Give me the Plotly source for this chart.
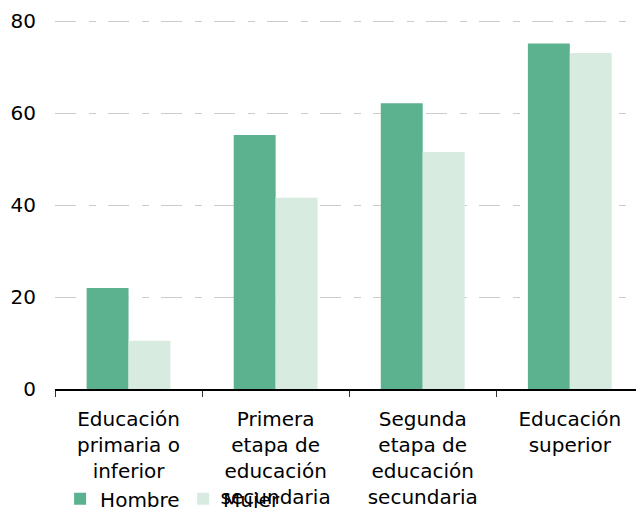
import plotly.graph_objects as go

# educational attainment categories (tick labels split over lines)
categories = [
    "Educación<br>primaria o<br>inferior",
    "Primera<br>etapa de<br>educación<br>secundaria",
    "Segunda<br>etapa de<br>educación<br>secundaria",
    "Educación<br>superior",
]
hombre = [22.0, 55.3, 62.2, 75.2]
mujer = [10.5, 41.6, 51.6, 73.1]

font_family = "DejaVu Sans, Arial, sans-serif"

fig = go.Figure()
fig.add_trace(go.Bar(x=categories, y=hombre, name="Hombre", marker=dict(color="#5cb18f", line=dict(width=0))))
fig.add_trace(go.Bar(x=categories, y=mujer, name="Mujer", marker=dict(color="#d7ebe1", line=dict(width=0))))

fig.update_layout(
    width=636,
    height=508,
    barmode="group",
    bargap=0.43,
    bargroupgap=0,
    plot_bgcolor="white",
    paper_bgcolor="white",
    font=dict(family=font_family, size=20, color="#000000"),
    margin=dict(l=55, r=0, t=20, b=119, pad=0),
    legend=dict(
        orientation="h",
        xref="container",
        yref="container",
        x=0.0945,
        xanchor="left",
        y=0.018,
        yanchor="middle",
        font=dict(size=20),
        entrywidth=78,
        entrywidthmode="pixels",
        bgcolor="rgba(0,0,0,0)",
    ),
    xaxis=dict(
        range=[-0.5, 3.45],
        automargin=False,
        showline=True,
        linecolor="#000000",
        linewidth=1.5,
        ticks="outside",
        tickson="boundaries",
        ticklen=6,
        tickcolor="#333333",
        showgrid=False,
        tickangle=0,
        ticklabelstandoff=11,
    ),
    yaxis=dict(
        range=[0, 80.3],
        automargin=False,
        dtick=20,
        showline=False,
        zeroline=False,
        showgrid=True,
        gridcolor="#cccccc",
        griddash="21px,13px,7px,12px",
        gridwidth=1,
        ticklabelstandoff=18,
    ),
)

# the page's default body margin would shift the chart by 8px
fig.write_html(
    "out.html",
    config={"displayModeBar": False},
    post_script="document.body.style.margin='0px';",
)
